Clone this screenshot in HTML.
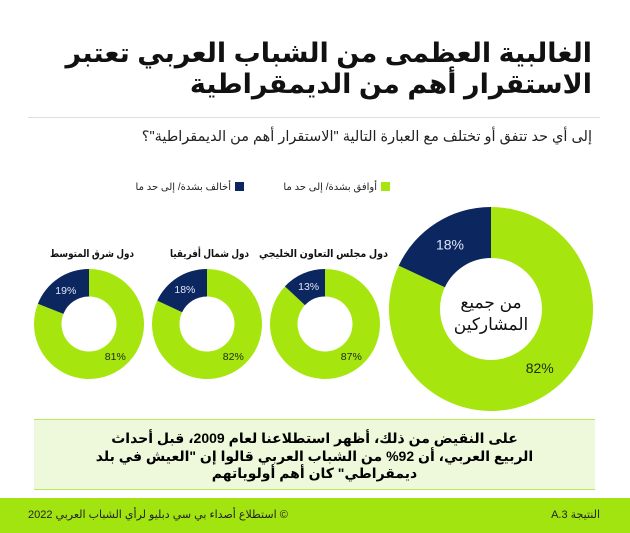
<!DOCTYPE html>
<html><head><meta charset="utf-8">
<style>
body{margin:0;width:630px;height:533px;overflow:hidden;background:#fff;font-family:"Liberation Sans","Noto Sans CJK SC","DejaVu Sans",sans-serif;position:relative}
.abs{position:absolute}
#title{right:38px;top:38px;font-size:27px;font-weight:bold;line-height:31px;text-align:right;color:#111;direction:rtl}
#rule{left:28px;right:30px;top:117px;height:1px;background:#ddd}
#q{right:38px;top:129px;font-size:14.5px;direction:rtl;color:#222}
.leg{font-size:10px;direction:rtl;color:#222;top:182px}
.sw{display:inline-block;width:9px;height:9px;vertical-align:-1px;margin-left:4px}
#box{left:34px;top:419px;width:561px;height:71px;background:#eef9dc;border-top:1.5px solid #b8ea5c;border-bottom:1.5px solid #b8ea5c;text-align:center;font-size:14px;font-weight:bold;line-height:17.5px;direction:rtl;padding-top:10px;box-sizing:border-box}
#footer{left:0;top:498px;width:630px;height:35px;background:#a2e40f}
.ft{font-size:11px;direction:rtl;color:#222;top:508px}
</style></head><body>
<div class="abs" id="title">الغالبية العظمى من الشباب العربي تعتبر<br>الاستقرار أهم من الديمقراطية</div>
<div class="abs" id="rule"></div>
<div class="abs" id="q">إلى أي حد تتفق أو تختلف مع العبارة التالية "الاستقرار أهم من الديمقراطية"؟</div>
<div class="abs leg" style="right:240px"><span class="sw" style="background:#a6e60e"></span>أوافق بشدة/ إلى حد ما</div>
<div class="abs leg" style="right:386px"><span class="sw" style="background:#0c2660"></span>أخالف بشدة/ إلى حد ما</div>
<svg class="abs" id="chart" style="left:0;top:0" width="630" height="533"></svg>
<div class="abs" id="box">على النقيض من ذلك، أظهر استطلاعنا لعام 2009، قبل أحداث<br>الربيع العربي، أن 92% من الشباب العربي قالوا إن "العيش في بلد<br>ديمقراطي" كان أهم أولوياتهم</div>
<div class="abs" id="footer"></div>
<div class="abs ft" style="left:28px">© استطلاع أصداء بي سي دبليو لرأي الشباب العربي 2022</div>
<div class="abs ft" style="right:30px">النتيجة A.3</div>
<script>
const groups=["من جميع المشاركين","دول مجلس التعاون الخليجي","دول شمال أفريقيا","دول شرق المتوسط"];
const agree=[82,87,82,81];
const disagree=[18,13,18,19];
const cx=[491,325,207,89], cy=[309,324,324,324], R=[102,55,55,55];
const titleRight=[0,388,249,134], titleW=[0,129,79,84];
const svg=document.getElementById('chart');const NS='http://www.w3.org/2000/svg';
function pt(x,y,r,f){const a=-Math.PI/2+2*Math.PI*f;return [x+r*Math.cos(a),y+r*Math.sin(a)];}
function arc(x,y,r,ri,f0,f1){const [a,b]=pt(x,y,r,f0),[c,d]=pt(x,y,r,f1),[e,g]=pt(x,y,ri,f1),[h,k]=pt(x,y,ri,f0);const L=(f1-f0)>0.5?1:0;
return `M${a},${b}A${r},${r} 0 ${L} 1 ${c},${d}L${e},${g}A${ri},${ri} 0 ${L} 0 ${h},${k}Z`;}
function txt(x,y,s,size,fill,name,weight){const t=document.createElementNS(NS,'text');t.setAttribute('x',x);t.setAttribute('y',y);t.setAttribute('font-size',size);t.setAttribute('fill',fill);t.setAttribute('text-anchor','middle');if(weight)t.setAttribute('font-weight',weight);t.textContent=s;


svg.appendChild(t);return t;}
groups.forEach((g,i)=>{const x=cx[i],y=cy[i],r=R[i],ri=r*0.5;const tot=agree[i]+disagree[i];const fd=disagree[i]/tot;
const p1=document.createElementNS(NS,'path');p1.setAttribute('d',arc(x,y,r,ri,0,1-fd));p1.setAttribute('fill','#a6e60e');


svg.appendChild(p1);
const p2=document.createElementNS(NS,'path');p2.setAttribute('d',arc(x,y,r,ri,1-fd,1));p2.setAttribute('fill','#0c2660');


svg.appendChild(p2);
const big=i===0;const rm=(r+ri)/2;
const [dx,dy]=pt(x,y,rm,1-fd/2);txt(dx,dy+(big?5:4),disagree[i]+'%',big?14:10.5,'#dfe6f5','label-disagree');
const [ax,ay]=pt(x,y,rm,0.39);txt(ax,ay+(big?5:4),agree[i]+'%',big?14:10.5,'#1c2a10','label-agree');
if(big){txt(x,y-1,'من جميع',17,'#111','center-label');txt(x,y+21,'المشاركين',17,'#111','center-label');}
else{const t=txt(titleRight[i]-titleW[i]/2,257,g,10.5,'#111','donut-title','bold');t.setAttribute('textLength',titleW[i]);t.setAttribute('lengthAdjust','spacingAndGlyphs');}
});
</script>
</body></html>
